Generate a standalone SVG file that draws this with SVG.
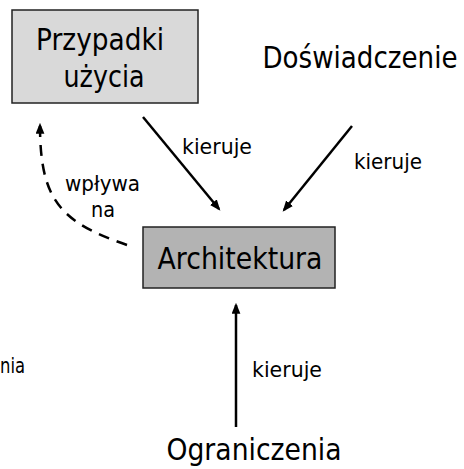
<svg xmlns="http://www.w3.org/2000/svg" width="464" height="469" viewBox="0 0 464 469">
  <style>
    text { font-family: "DejaVu Sans", "Liberation Sans", sans-serif; fill: #000; }
    .big { font-size: 30px; }
    .lbl { font-size: 21px; }
    .box { stroke: #222; stroke-width: 1.5; }
    .edge { fill: none; stroke: #000; stroke-width: 2.5; }
    .dash { stroke-dasharray: 11 8; }
  </style>
  <defs>
    <marker id="ah" viewBox="0 0 10 8" refX="8" refY="4" markerWidth="11" markerHeight="9" markerUnits="userSpaceOnUse" orient="auto">
      <path d="M0,0 L10,4 L0,8 z" fill="#000"/>
    </marker>
  </defs>
  <rect width="464" height="469" fill="#fff"/>

  <g id="przypadki">
    <rect class="box" x="12" y="10" width="186" height="93" fill="#d9d9d9"/>
    <text class="big" x="100" y="50" text-anchor="middle" textLength="128" lengthAdjust="spacingAndGlyphs">Przypadki</text>
    <text class="big" x="104" y="87" text-anchor="middle" textLength="81" lengthAdjust="spacingAndGlyphs">użycia</text>
  </g>

  <g id="doswiadczenie">
    <text class="big" x="360" y="68" text-anchor="middle" textLength="195" lengthAdjust="spacingAndGlyphs">Doświadczenie</text>
  </g>

  <g id="architektura">
    <rect class="box" x="143" y="227" width="192" height="61" fill="#b3b3b3"/>
    <text class="big" x="240" y="269" text-anchor="middle" textLength="165" lengthAdjust="spacingAndGlyphs">Architektura</text>
  </g>

  <g id="ograniczenia">
    <text class="big" x="254" y="460" text-anchor="middle" textLength="175" lengthAdjust="spacingAndGlyphs">Ograniczenia</text>
  </g>

  <g id="cut-text">
    <text class="lbl" x="0" y="373" textLength="25" lengthAdjust="spacingAndGlyphs">nia</text>
  </g>

  <g id="connectors">
    <line class="edge" x1="143" y1="117" x2="219" y2="209" marker-end="url(#ah)"/>
    <line class="edge" x1="352" y1="126" x2="284" y2="210" marker-end="url(#ah)"/>
    <line class="edge" x1="236" y1="427" x2="236" y2="305" marker-end="url(#ah)"/>
    <path class="edge dash" d="M127,245 C60,222 40,200 40,125" marker-end="url(#ah)"/>
    <text class="lbl" x="182" y="154" textLength="70" lengthAdjust="spacingAndGlyphs">kieruje</text>
    <text class="lbl" x="354" y="169" textLength="68" lengthAdjust="spacingAndGlyphs">kieruje</text>
    <text class="lbl" x="252" y="377" textLength="70" lengthAdjust="spacingAndGlyphs">kieruje</text>
    <text class="lbl" x="65" y="191" textLength="75" lengthAdjust="spacingAndGlyphs">wpływa</text>
    <text class="lbl" x="91" y="217" textLength="24" lengthAdjust="spacingAndGlyphs">na</text>
  </g>
</svg>
